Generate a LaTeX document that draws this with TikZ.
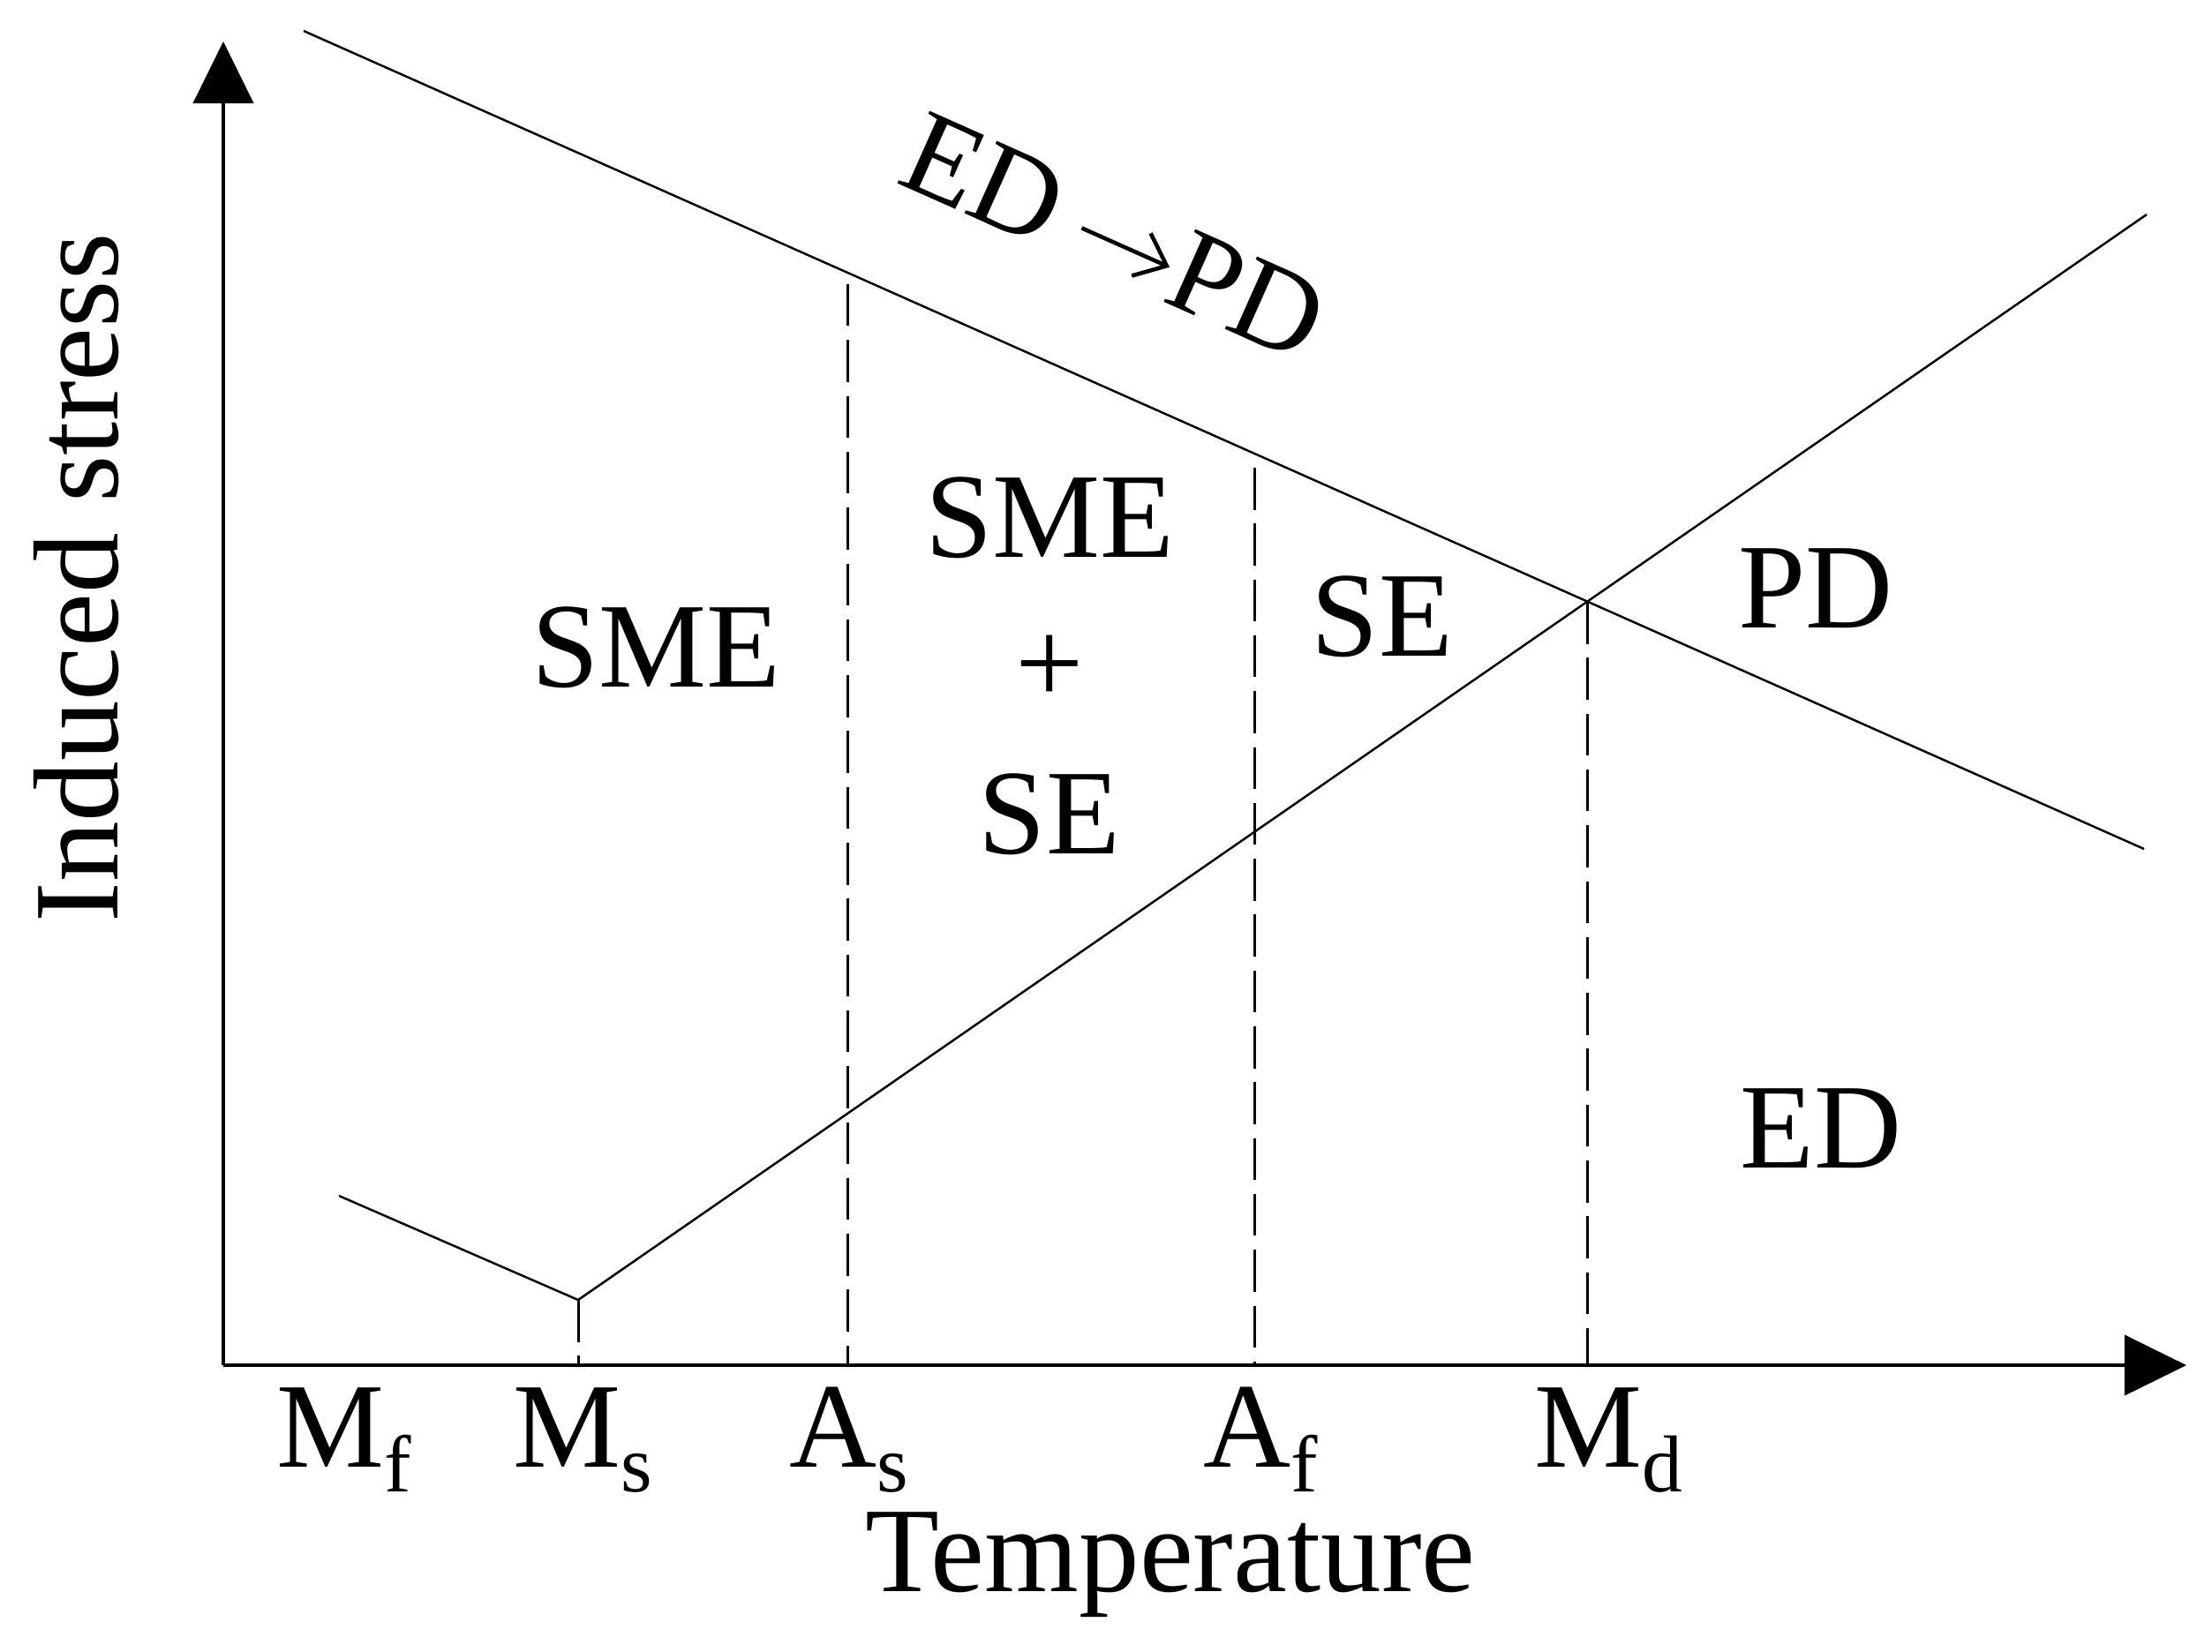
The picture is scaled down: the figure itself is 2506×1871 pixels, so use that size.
\documentclass[tikz,border=0pt]{standalone}
\usepackage{fontspec}
\setmainfont{Liberation Serif}
\usetikzlibrary{arrows.meta}
\newcommand{\lowsub}[1]{\raisebox{-8pt}{\fontsize{26}{26}\selectfont #1}}
\newcommand{\textarrowlong}{\tikz[baseline=0pt]{\draw[line width=1.3pt,-{Straight Barb[length=9pt,width=15pt,line width=1.3pt]}] (0pt,11pt) -- (31pt,11pt);}}
\tikzset{
  axisline/.style={line width=1.15pt,-{Triangle[length=0.7cm,width=0.68cm]}},
  thinline/.style={line width=0.7pt},
  guide/.style={line width=0.85pt,dash pattern=on 13.5pt off 4.5pt},
  lbl/.style={font=\fontsize{39}{42}\selectfont,inner sep=0pt,anchor=base},
}
\begin{document}
\begin{tikzpicture}[x=0.01cm,y=-0.01cm]
\useasboundingbox (0,0) rectangle (2506,1871);
% coordinates
\coordinate (O) at (253,1547);
\coordinate (Ytip) at (253,47);
\coordinate (Xtip) at (2477,1547);
\coordinate (U1) at (344,35);
\coordinate (U2) at (2429,962);
\coordinate (L0) at (384,1355);
\coordinate (MsP) at (655,1473);
\coordinate (L2) at (2432,243);
\coordinate (X) at (1798,682);
\coordinate (AsT) at (960,322);
\coordinate (AfT) at (1421,530);
\coordinate (MsB) at (655,1547);
\coordinate (AsB) at (960,1547);
\coordinate (AfB) at (1421,1547);
\coordinate (MdB) at (1798,1547);
% axes
\draw[axisline] (O) -- (Ytip);
\draw[axisline] (O) -- (Xtip);
% lines
\draw[thinline] (U1) -- (U2);
\draw[thinline] (L0) -- (MsP) -- (L2);
% guides
\draw[guide] (MsP) -- (MsB);
\draw[guide] (AsT) -- (AsB);
\draw[guide] (AfT) -- (AfB);
\draw[guide] (X) -- (MdB);
% axis tick labels
\node[lbl] (mf) at (390,1662) {M\lowsub{f}};
\node[lbl] (ms) at (660,1662) {M\lowsub{s}};
\node[lbl] (as) at (962,1662) {A\lowsub{s}};
\node[lbl] (af) at (1428,1662) {A\lowsub{f}};
\node[lbl] (md) at (1822,1662) {M\lowsub{d}};
% axis titles
\node[lbl] (tt) at (1326,1803) {Temperature};
\node[lbl,rotate=90] (st) at (133,655) {Induced stress};
% regions
\node[lbl] (sme1) at (743,778) {SME};
\node[lbl] (sme2) at (1189,631) {SME};
\node[font=\fontsize{39}{42}\selectfont,inner sep=0pt] (plus) at (1189,759) {+};
\node[lbl] (se1) at (1189,967) {SE};
\node[lbl] (se2) at (1566,743) {SE};
\node[lbl] (pd) at (2057,711) {PD};
\node[lbl] (ed) at (2063,1323) {ED};
\node[font=\fontsize{39}{42}\selectfont,inner sep=0pt,rotate=-24] (edpd) at (1262,268) {ED\hspace{0.22em}\textarrowlong\hspace{0.02em}PD};
\end{tikzpicture}
\end{document}
